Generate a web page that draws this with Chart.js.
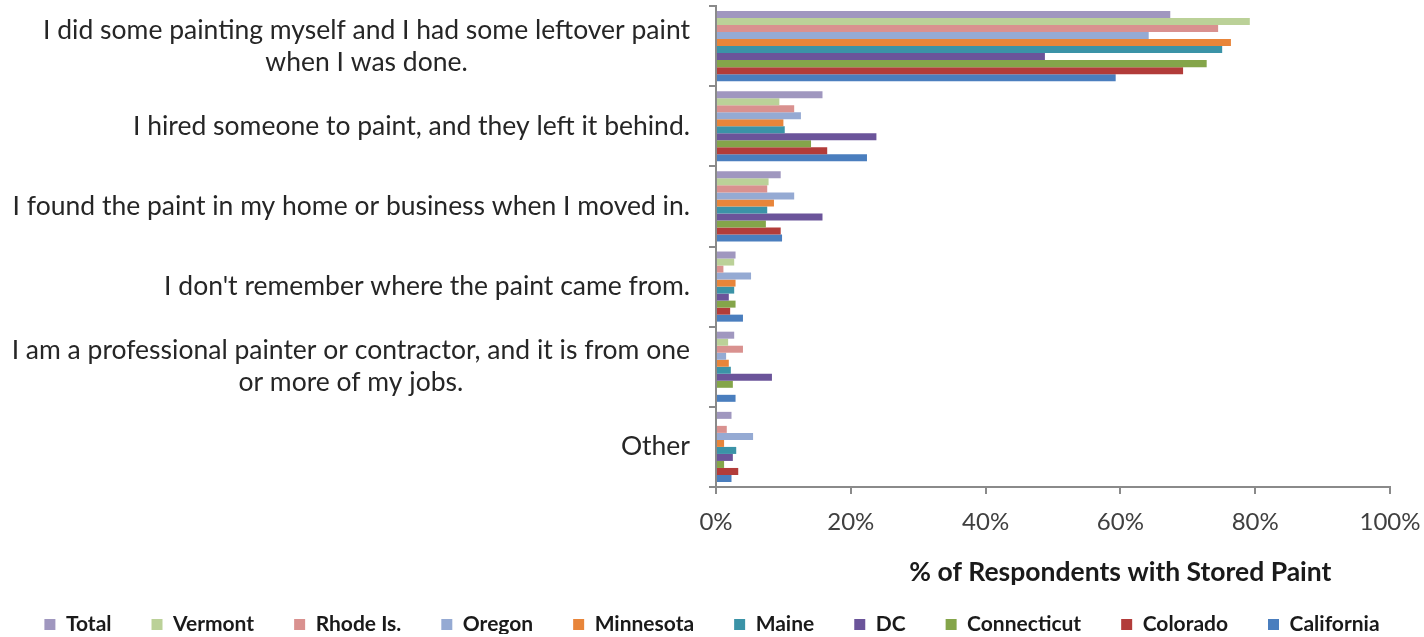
<!DOCTYPE html>
<html>
<head>
<meta charset="utf-8">
<script src="https://cdn.jsdelivr.net/npm/chart.js@4.4.1/dist/chart.umd.min.js"></script>
<style>
  html, body { margin: 0; padding: 0; background: #fff; }
  #wrap { width: 1424px; height: 637px; }
</style>
</head>
<body>
<div id="wrap"><canvas id="chart"></canvas></div>
<script>
// Categories (top to bottom)
const categories = [
  ["I did some painting myself and I had some leftover paint", "when I was done."],
  "I hired someone to paint, and they left it behind.",
  "I found the paint in my home or business when I moved in.",
  "I don't remember where the paint came from.",
  ["I am a professional painter or contractor, and it is from one", "or more of my jobs."],
  "Other"
];

// % of respondents, one array per series
const total       = [67.4, 15.8, 9.6, 2.9, 2.7, 2.3];
const vermont     = [79.2, 9.4, 7.8, 2.7, 1.8, 0];
const rhodeIs     = [74.5, 11.6, 7.6, 1.1, 4.0, 1.6];
const oregon      = [64.2, 12.6, 11.6, 5.2, 1.5, 5.5];
const minnesota   = [76.4, 10.0, 8.6, 2.9, 1.9, 1.2];
const maine       = [75.1, 10.2, 7.6, 2.7, 2.2, 3.0];
const dc          = [48.8, 23.8, 15.8, 1.9, 8.3, 2.5];
const connecticut = [72.8, 14.1, 7.4, 2.9, 2.5, 1.2];
const colorado    = [69.3, 16.5, 9.6, 2.1, 0, 3.3];
const california  = [59.3, 22.4, 9.8, 4.0, 2.9, 2.3];

const seriesNames = ["Total", "Vermont", "Rhode Is.", "Oregon", "Minnesota", "Maine", "DC", "Connecticut", "Colorado", "California"];
const seriesData = [total, vermont, rhodeIs, oregon, minnesota, maine, dc, connecticut, colorado, california];
const seriesColors = ["#A097BF", "#BBD198", "#D9918F", "#95AAD3", "#E8853A", "#3B93A7", "#6B549A", "#84A54A", "#B23C3A", "#4A7EBE"];

const xTicks = [0, 20, 40, 60, 80, 100];
const axisTitle = "% of Respondents with Stored Paint";

const FONT = "Lato, 'Open Sans', sans-serif";
const axisGrey = "#8a8a8a";

// y labels: single lines right-aligned, wrapped lines centred on the widest line
const yLabelPlugin = {
  id: 'yLabels',
  afterDraw(chart) {
    const ys = chart.scales.y;
    const ctx = chart.ctx;
    ctx.save();
    ctx.font = "26.5px " + FONT;
    ctx.fillStyle = "#262626";
    ctx.textAlign = "center";
    ctx.textBaseline = "middle";
    const right = ys.right - 26;
    const lineH = 32;
    categories.forEach((label, i) => {
      const lines = Array.isArray(label) ? label : [label];
      const widest = Math.max(...lines.map(l => ctx.measureText(l).width));
      const cx = right - widest / 2;
      const cy = ys.getPixelForValue(i);
      lines.forEach((line, j) => {
        ctx.fillText(line, cx, cy + (j - (lines.length - 1) / 2) * lineH);
      });
    });
    ctx.restore();
  }
};

// x axis title, sitting under the right part of the axis like the original
const axisTitlePlugin = {
  id: 'axisTitle',
  afterDraw(chart) {
    const xs = chart.scales.x;
    const ctx = chart.ctx;
    ctx.save();
    ctx.font = "bold 26.5px " + FONT;
    ctx.fillStyle = "#1a1a1a";
    ctx.textAlign = "center";
    ctx.textBaseline = "middle";
    ctx.fillText(axisTitle, xs.getPixelForValue(60), xs.top + 85);
    ctx.restore();
  }
};

new Chart(document.getElementById('chart'), {
  type: 'bar',
  data: {
    labels: categories,
    datasets: seriesNames.map((name, i) => ({
      label: name,
      data: seriesData[i],
      backgroundColor: seriesColors[i],
      borderWidth: 0,
      barPercentage: 1.0,
      categoryPercentage: 0.875
    }))
  },
  options: {
    indexAxis: 'y',
    responsive: true,
    maintainAspectRatio: false,
    animation: false,
    layout: { padding: { top: 6, right: 0, bottom: 3, left: 0 } },
    scales: {
      x: {
        min: 0,
        max: 100,
        afterBuildTicks: s => { s.ticks = xTicks.map(v => ({ value: v })); },
        afterFit: s => { s.height = 87; s.paddingRight = 34; },
        ticks: {
          callback: v => v + '%',
          color: '#404040',
          font: { family: FONT, size: 24 },
          padding: 14
        },
        grid: { drawOnChartArea: false, tickLength: 7, color: axisGrey, lineWidth: 2 },
        border: { color: axisGrey, width: 2 }
      },
      y: {
        afterFit: s => { s.width = 716; },
        ticks: { display: false },
        grid: { drawOnChartArea: false, tickLength: 7, color: axisGrey, lineWidth: 2 },
        border: { color: axisGrey, width: 2 }
      }
    },
    plugins: {
      legend: {
        position: 'bottom',
        maxHeight: 60,
        labels: {
          boxWidth: 11,
          boxHeight: 11,
          padding: 40,
          color: '#1a1a1a',
          font: { family: FONT, size: 21, weight: 'bold' }
        }
      },
      tooltip: { enabled: false }
    }
  },
  plugins: [yLabelPlugin, axisTitlePlugin]
});
</script>
</body>
</html>
